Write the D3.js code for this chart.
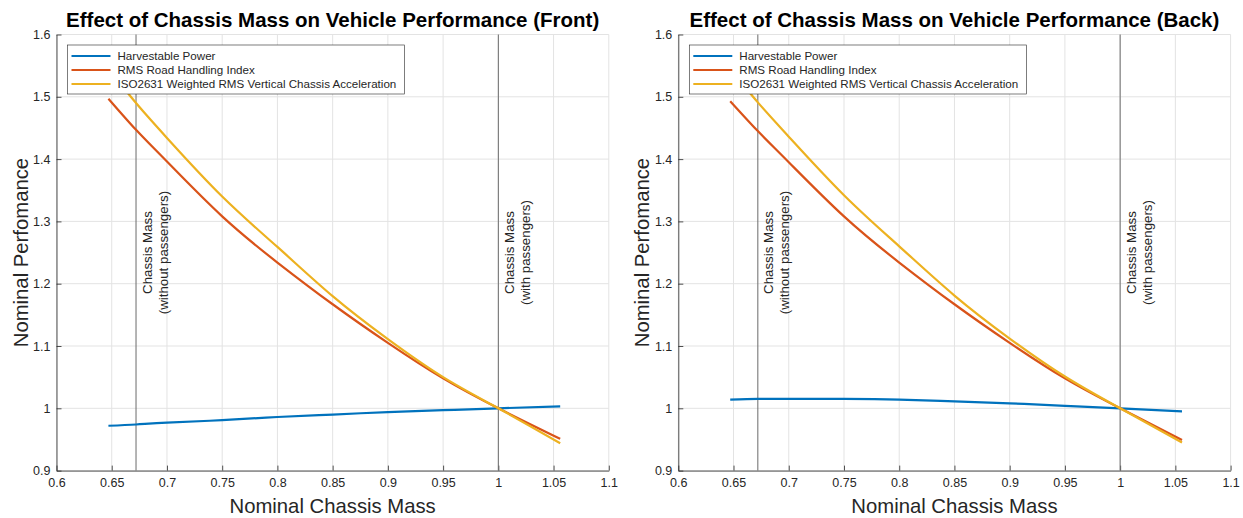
<!DOCTYPE html>
<meta charset="utf-8">
<style>
    html,
    body {
        margin: 0;
        padding: 0;
        background: #fff;
    }

    text {
        font-family: "Liberation Sans", Arial, sans-serif;
        fill: #262626;
    }

    .grid line {
        stroke: #e3e3e3;
        stroke-width: 1;
    }
</style>
<svg id="canvas" width="1243" height="518"></svg>
<script src="https://d3js.org/d3.v7.min.js"></script>
<script>
    // sample points along nominal chassis mass (same for every curve)
    var mass = [0.647, 0.672, 0.7, 0.75, 0.8, 0.85, 0.9, 0.95, 1.0, 1.056];

    // front axle
    var frontPower = [0.972, 0.974, 0.977, 0.981, 0.986, 0.990, 0.994, 0.997, 1.000, 1.003];
    var frontHandling = [1.497, 1.447, 1.396, 1.308, 1.234, 1.167, 1.105, 1.048, 1.000, 0.951];
    var frontIso = [1.545, 1.490, 1.434, 1.340, 1.259, 1.180, 1.111, 1.050, 1.000, 0.944];

    // back axle
    var backPower = [1.014, 1.015, 1.015, 1.015, 1.014, 1.011, 1.008, 1.004, 1.000, 0.995];
    var backHandling = [1.493, 1.445, 1.395, 1.308, 1.234, 1.167, 1.105, 1.048, 1.000, 0.949];
    var backIso = [1.545, 1.491, 1.436, 1.342, 1.260, 1.181, 1.112, 1.051, 1.000, 0.945];

    var seriesNames = ["Harvestable Power", "RMS Road Handling Index", "ISO2631 Weighted RMS Vertical Chassis Acceleration"];
    var seriesColors = ["#0072BD", "#D95319", "#EDB120"];

    var xTicks = [0.6, 0.65, 0.7, 0.75, 0.8, 0.85, 0.9, 0.95, 1, 1.05, 1.1];
    var yTicks = [0.9, 1, 1.1, 1.2, 1.3, 1.4, 1.5, 1.6];

    // reference masses marked with vertical lines
    var markers = [
        { x: 0.672, lines: ["Chassis Mass", "(without passengers)"] },
        { x: 1.0, lines: ["Chassis Mass", "(with passengers)"] }
    ];

    var panels = [
        { title: "Effect of Chassis Mass on Vehicle Performance (Front)", left: 56.5, series: [frontPower, frontHandling, frontIso] },
        { title: "Effect of Chassis Mass on Vehicle Performance (Back)", left: 678.3, series: [backPower, backHandling, backIso] }
    ];

    var svg = d3.select("svg");
    var plotW = 552.3, plotTop = 34.5, plotBottom = 470.6;

    panels.forEach(function(p) {
        var x = d3.scaleLinear().domain([0.6, 1.1]).range([p.left, p.left + plotW]);
        var y = d3.scaleLinear().domain([0.9, 1.6]).range([plotBottom, plotTop]);

        var g = svg.append("g");

        //grid
        var grid = g.append("g").attr("class", "grid");
        grid.selectAll(".gx").data(xTicks).enter().append("line")
            .attr("x1", d => x(d)).attr("x2", d => x(d))
            .attr("y1", plotTop).attr("y2", plotBottom);
        grid.selectAll(".gy").data(yTicks).enter().append("line")
            .attr("x1", p.left).attr("x2", p.left + plotW)
            .attr("y1", d => y(d)).attr("y2", d => y(d));

        //axes, ticks pointing inward
        var xAxis = g.append("g")
            .attr("transform", "translate(0," + plotBottom + ")")
            .call(d3.axisBottom(x).tickValues(xTicks).tickSizeInner(-5).tickSizeOuter(0).tickPadding(8).tickFormat(d3.format("")));
        var yAxis = g.append("g")
            .attr("transform", "translate(" + p.left + ",0)")
            .call(d3.axisLeft(y).tickValues(yTicks).tickSizeInner(-5).tickSizeOuter(0).tickPadding(6).tickFormat(d3.format("")));
        [xAxis, yAxis].forEach(function(a) {
            a.selectAll("path, line").attr("stroke", "#262626").attr("stroke-width", 0.8);
            a.selectAll("text").style("font-size", "12.5px").style("font-family", "'Liberation Sans', Arial, sans-serif").attr("fill", "#262626");
        });

        //marker lines + labels
        markers.forEach(function(m) {
            g.append("line")
                .attr("x1", x(m.x)).attr("x2", x(m.x))
                .attr("y1", plotTop).attr("y2", plotBottom)
                .attr("stroke", "#6b6b6b").attr("stroke-width", 1);
            m.lines.forEach(function(t, i) {
                g.append("text")
                    .attr("transform", "translate(" + (x(m.x) + 15.5 + i * 16) + "," + y(1.25) + ") rotate(-90)")
                    .attr("text-anchor", "middle")
                    .style("font-size", "13.3px")
                    .text(t);
            });
        });

        //curves
        var line = d3.line()
            .x(d => x(d[0]))
            .y(d => y(d[1]))
            .curve(d3.curveNatural);

        p.series.forEach(function(vals, i) {
            g.append("path")
                .datum(mass.map((m, j) => [m, vals[j]]))
                .attr("fill", "none")
                .attr("stroke", seriesColors[i])
                .attr("stroke-width", 2.2)
                .attr("d", line);
        });

        //legend
        var lg = g.append("g").attr("transform", "translate(" + (p.left + 11) + ",45)");
        lg.append("rect")
            .attr("width", 337).attr("height", 49)
            .attr("fill", "#fff").attr("stroke", "#262626").attr("stroke-width", 0.6);
        seriesNames.forEach(function(name, i) {
            var ly = 11 + i * 14;
            lg.append("line")
                .attr("x1", 4).attr("x2", 43)
                .attr("y1", ly).attr("y2", ly)
                .attr("stroke", seriesColors[i]).attr("stroke-width", 2.2);
            lg.append("text")
                .attr("x", 50).attr("y", ly + 4)
                .style("font-size", "11.6px")
                .text(name);
        });

        //titles
        var cx = p.left + plotW / 2;
        g.append("text")
            .attr("x", cx).attr("y", 27)
            .attr("text-anchor", "middle")
            .style("font-size", "20.5px").style("font-weight", "bold")
            .style("fill", "#000")
            .text(p.title);
        g.append("text")
            .attr("x", cx).attr("y", 513)
            .attr("text-anchor", "middle")
            .style("font-size", "20.3px")
            .text("Nominal Chassis Mass");
        g.append("text")
            .attr("transform", "translate(" + (p.left - 29) + "," + y(1.25) + ") rotate(-90)")
            .attr("text-anchor", "middle")
            .style("font-size", "20.3px")
            .text("Nominal Perfomance");
    });
</script>
